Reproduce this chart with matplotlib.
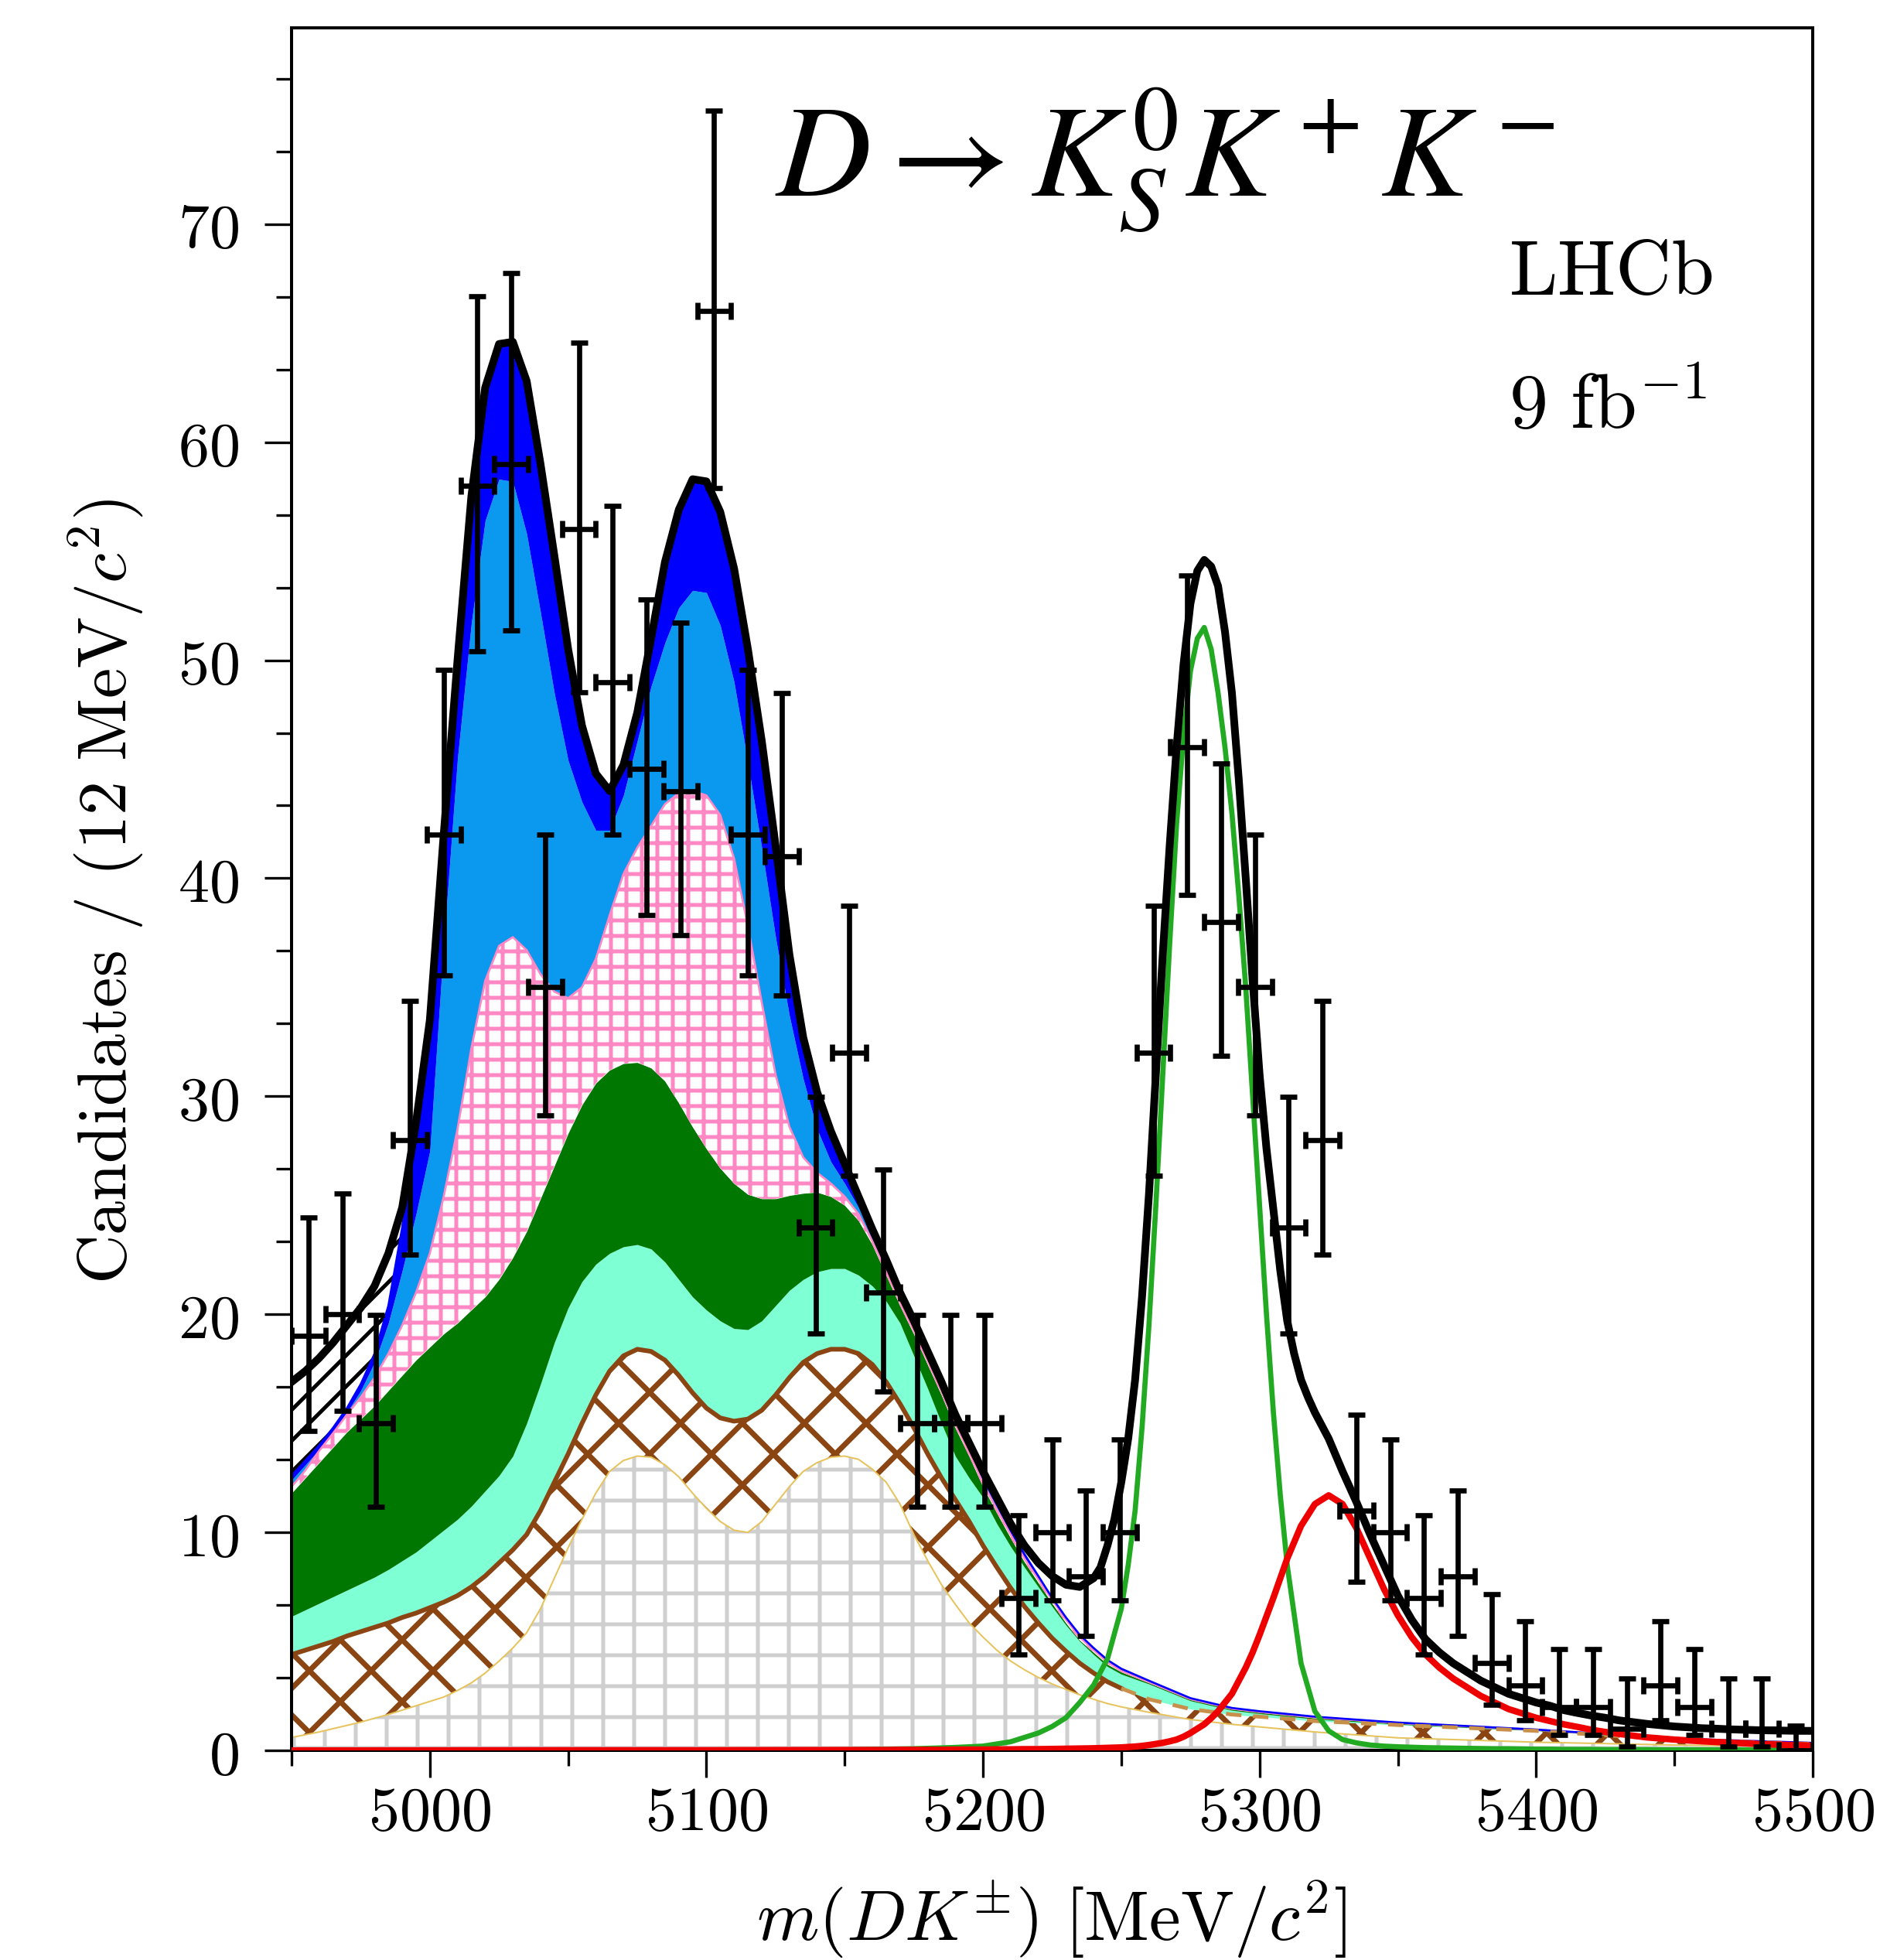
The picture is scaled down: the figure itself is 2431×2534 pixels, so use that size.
import numpy as np
import matplotlib
matplotlib.use("Agg")
import matplotlib.pyplot as plt
from matplotlib.ticker import MultipleLocator, AutoMinorLocator, FuncFormatter

# ---- data: 45 bins over 4950-5500 MeV ----
counts = [19, 20, 15, 28, 42, 58, 59, 35, 56, 49,
          45, 44, 66, 42, 41, 24, 32, 21, 15, 15,
          15, 7, 10, 8, 10, 32, 46, 38, 35, 24,
          28, 11, 10, 7, 8, 4, 3, 2, 2, 1,
          3, 2, 1, 1, 0]
err_lo = [4.33, 4.44, 3.83, 5.27, 6.46, 7.59, 7.65, 5.89, 7.46, 6.98,
          6.69, 6.61, 8.10, 6.46, 6.38, 4.87, 5.63, 4.55, 3.83, 3.83,
          3.83, 2.58, 3.11, 2.76, 3.11, 5.63, 6.76, 6.14, 5.89, 4.87,
          5.27, 3.27, 3.11, 2.58, 2.76, 1.91, 1.63, 1.29, 1.29, 0.83,
          1.63, 1.29, 0.83, 0.83, 0.0]
err_hi = [5.43, 5.55, 4.96, 6.38, 7.57, 8.68, 8.75, 7.01, 8.56, 8.08,
          7.79, 7.72, 9.19, 7.57, 7.49, 5.98, 6.75, 5.66, 4.96, 4.96,
          4.96, 3.77, 4.26, 3.94, 4.26, 6.75, 7.87, 7.26, 7.01, 5.98,
          6.38, 4.41, 4.26, 3.77, 3.94, 3.16, 2.92, 2.64, 2.64, 2.30,
          2.92, 2.64, 2.30, 2.30, 1.15]

# ---- stacked background components (cumulative tops) ----
bkg_x = np.concatenate([np.arange(4950, 5251, 5),
                        [5260, 5275, 5290, 5300, 5320, 5350, 5400, 5450, 5500]])
top_gray = [0.60, 0.72, 0.85, 1.0, 1.15, 1.3, 1.48, 1.65, 1.85, 2.05,
            2.25, 2.45, 2.75, 3.1, 3.55, 4.1, 4.7, 5.4, 6.5, 7.9,
            9.3, 10.6, 11.8, 12.8, 13.3, 13.5, 13.45, 13.1, 12.55, 11.8,
            11.1, 10.5, 10.1, 10.0, 10.5, 11.3, 12.1, 12.8, 13.2, 13.45,
            13.5, 13.35, 12.9, 12.3, 11.3, 9.9, 8.7, 7.6, 6.7, 5.85,
            5.2, 4.6, 4.1, 3.7, 3.35, 3.05, 2.8, 2.55, 2.35, 2.15,
            2.0,
            1.75, 1.42, 1.2, 1.08, 0.85, 0.58, 0.38, 0.25, 0.18]
top_brown = [4.4, 4.6, 4.8, 5.0, 5.25, 5.45, 5.65, 5.85, 6.1, 6.3,
             6.55, 6.8, 7.1, 7.5, 8.0, 8.6, 9.2, 9.9, 11.0, 12.3,
             13.6, 15.0, 16.3, 17.4, 18.1, 18.4, 18.3, 17.9, 17.2, 16.4,
             15.7, 15.25, 15.1, 15.2, 15.6, 16.3, 17.1, 17.8, 18.2, 18.4,
             18.4, 18.2, 17.7, 16.9, 15.9, 14.8, 13.6, 12.5, 11.5, 10.5,
             9.4, 8.4, 7.45, 6.6, 5.85, 5.15, 4.55, 4.0, 3.55, 3.15,
             2.85,
             2.35, 1.9, 1.65, 1.55, 1.35, 1.17, 0.9, 0.5, 0.3]
top_aqua = [6.15, 6.45, 6.75, 7.05, 7.35, 7.65, 7.95, 8.3, 8.7, 9.1,
            9.6, 10.1, 10.6, 11.2, 11.9, 12.6, 13.5, 15.0, 16.8, 18.7,
            20.3, 21.5, 22.3, 22.8, 23.1, 23.2, 23.0, 22.4, 21.6, 20.8,
            20.2, 19.7, 19.35, 19.3, 19.7, 20.4, 21.1, 21.6, 21.95, 22.1,
            22.1, 21.8, 21.3, 20.6, 19.6, 18.1, 16.6, 15.0, 13.5, 12.5,
            11.6, 10.4, 9.35, 8.4, 7.5, 6.6, 5.75, 5.0, 4.4, 3.85,
            3.5,
            3.05, 2.28, 1.84, 1.69, 1.44, 1.2, 0.91, 0.52, 0.32]
top_green = [11.8, 12.5, 13.2, 13.9, 14.6, 15.2, 15.8, 16.5, 17.2, 17.9,
             18.5, 19.1, 19.6, 20.2, 20.8, 21.6, 22.6, 23.8, 25.3, 26.8,
             28.3, 29.6, 30.6, 31.2, 31.5, 31.55, 31.3, 30.7, 29.7, 28.6,
             27.6, 26.7, 26.0, 25.5, 25.3, 25.3, 25.45, 25.55, 25.6, 25.4,
             25.0, 24.3, 23.2, 21.8, 20.4, 19.1, 17.7, 16.3, 14.8, 13.5,
             12.1, 10.9, 9.75, 8.65, 7.7, 6.75, 5.85, 5.05, 4.5, 3.95,
             3.6,
             3.1, 2.33, 1.89, 1.74, 1.49, 1.24, 0.93, 0.53, 0.33]
top_pink = [12.1, 12.85, 13.75, 14.55, 15.4, 16.2, 17.1, 18.2, 19.5, 21.0,
            22.8, 25.4, 28.5, 32.2, 35.3, 36.9, 37.3, 36.7, 35.6, 34.8,
            34.5, 35.0, 36.3, 38.3, 40.2, 41.4, 42.4, 43.4, 43.9, 44.0,
            43.8, 42.9, 40.9, 37.8, 34.3, 31.0, 28.6, 27.2, 26.5, 26.0,
            25.4, 24.6, 23.35, 21.95, 20.55, 19.25, 17.85, 16.45, 14.95, 13.65,
            12.25, 11.05, 9.9, 8.8, 7.85, 6.9, 6.0, 5.2, 4.6, 4.05,
            3.65,
            3.14, 2.36, 1.92, 1.77, 1.52, 1.26, 0.95, 0.54, 0.34]
top_ltblue = [12.4, 13.1, 13.8, 14.6, 15.5, 16.5, 17.8, 19.6, 22.0, 24.6,
              27.5, 37.0, 45.5, 51.7, 56.4, 58.3, 58.2, 55.8, 52.2, 48.5,
              45.4, 43.5, 42.2, 42.2, 43.8, 46.3, 48.8, 50.8, 52.4, 53.2,
              53.1, 51.6, 49.0, 45.3, 41.4, 37.3, 33.7, 30.8, 28.5, 27.0,
              26.0, 24.9, 23.45, 22.1, 20.7, 19.35, 17.95, 16.55, 15.05, 13.75,
              12.35, 11.15, 9.95, 8.85, 7.9, 6.95, 6.05, 5.25, 4.65, 4.1,
              3.7,
              3.17, 2.38, 1.94, 1.78, 1.53, 1.27, 0.96, 0.55, 0.35]
top_blue = [12.6, 13.3, 14.0, 14.8, 15.7, 16.8, 18.2, 20.4, 24.0, 28.5,
            33.3, 41.8, 49.8, 57.3, 62.3, 64.3, 64.4, 62.6, 58.8, 54.6,
            50.3, 46.8, 44.6, 43.8, 45.0, 47.4, 50.8, 54.3, 56.7, 58.1,
            58.0, 56.6, 54.0, 50.3, 46.1, 41.3, 36.3, 32.5, 30.0, 28.2,
            26.7, 25.2, 23.7, 22.3, 20.8, 19.5, 18.1, 16.7, 15.2, 13.9,
            12.5, 11.3, 10.1, 9.0, 8.0, 7.0, 6.1, 5.3, 4.7, 4.15,
            3.75,
            3.2, 2.4, 1.95, 1.8, 1.55, 1.28, 0.96, 0.55, 0.35]

# ---- total fit (finer steps across the B peak) ----
tot_x = np.concatenate([np.arange(4950, 5240, 5),
                        np.arange(5240, 5320.1, 2.5),
                        np.arange(5325, 5501, 5)])
total = [16.9, 17.4, 18.0, 18.7, 19.5, 20.3, 21.3, 22.8, 24.9, 28.8,
         33.5, 42.0, 50.0, 57.5, 62.5, 64.5, 64.6, 62.8, 59.0, 54.8,
         50.5, 47.0, 44.8, 44.0, 45.2, 47.6, 51.0, 54.5, 56.9, 58.3,
         58.2, 56.8, 54.2, 50.5, 46.3, 41.5, 36.5, 32.7, 30.2, 28.4,
         26.9, 25.4, 23.9, 22.5, 21.0, 19.7, 18.3, 16.9, 15.4, 14.1,
         12.8, 11.6, 10.4, 9.4, 8.6, 8.0, 7.6, 7.5,
         7.9, 8.4, 9.4, 10.6, 12.3, 14.3, 17.0, 20.8, 25.5, 31.0,
         36.5, 41.5, 46.0, 49.8, 52.6, 54.1, 54.6, 54.3, 53.4, 51.3,
         48.5, 44.5, 40.0, 35.3, 31.0, 27.6, 24.8, 22.0, 19.7, 18.2,
         17.0, 16.2, 15.5,
         14.3, 12.8, 11.4, 9.9, 8.5,
         7.1, 6.0, 5.1, 4.5, 4.0, 3.6, 3.2, 2.9, 2.6, 2.4,
         2.2, 2.05, 1.85, 1.72, 1.6, 1.5, 1.38, 1.3, 1.22, 1.16,
         1.1, 1.06, 1.02, 1.0, 0.97, 0.95, 0.93, 0.92, 0.91, 0.9,
         0.9]

# ---- signal (green) and misID (red) shapes ----
sig_x = np.concatenate([[4950, 5050, 5100],
                        np.arange(5150, 5250, 5),
                        np.arange(5250, 5310.1, 2.5),
                        np.arange(5315, 5501, 5)])
sig_green = [0.0, 0.0, 0.01,
             0.03, 0.04, 0.05, 0.06, 0.07, 0.08, 0.1, 0.12, 0.14, 0.17,
             0.2, 0.3, 0.4, 0.6, 0.8, 1.1, 1.5, 2.2, 3.0, 4.2,
             6.5, 8.5, 11.0, 14.8, 19.5, 25.0, 31.0, 37.0, 42.5, 46.5,
             49.5, 51.0, 51.5, 50.5, 48.5, 46.0, 43.0, 39.2, 35.0, 30.0,
             25.0, 20.0, 15.5, 11.7, 8.5,
             4.0, 1.8, 0.9, 0.5, 0.35, 0.25, 0.2,
             0.17, 0.15, 0.13, 0.12, 0.11, 0.1, 0.09, 0.08, 0.08, 0.07,
             0.06, 0.06, 0.05, 0.05, 0.05, 0.04, 0.04, 0.04, 0.04, 0.03,
             0.03, 0.03, 0.03, 0.03, 0.03, 0.03, 0.02, 0.02, 0.02, 0.02,
             0.02]
sig_red = [0.0, 0.01, 0.01,
           0.02, 0.02, 0.02, 0.02, 0.03, 0.03, 0.03, 0.03, 0.04, 0.04,
           0.04, 0.05, 0.05, 0.06, 0.06, 0.07, 0.08, 0.09, 0.1, 0.12,
           0.14, 0.16, 0.18, 0.21, 0.25, 0.3, 0.35, 0.42, 0.5, 0.63,
           0.8, 1.0, 1.2, 1.48, 1.8, 2.2, 2.6, 3.2, 3.8, 4.5,
           5.3, 6.15, 7.0, 7.9, 8.8,
           10.3, 11.3, 11.7, 11.3, 10.2, 8.8, 7.4,
           6.2, 5.2, 4.4, 3.8, 3.3, 2.9, 2.5, 2.2, 1.9, 1.7,
           1.5, 1.35, 1.2, 1.08, 0.95, 0.85, 0.76, 0.68, 0.6, 0.55,
           0.5, 0.46, 0.42, 0.39, 0.36, 0.33, 0.3, 0.28, 0.26, 0.24,
           0.22]

DPI = 240
plt.rcParams["mathtext.fontset"] = "cm"
plt.rcParams["hatch.linewidth"] = 1.5

fig = plt.figure(figsize=(2431 / DPI, 2534 / DPI), dpi=DPI)
ax = fig.add_axes([0.1551, 0.1069, 0.8091, 0.8789])

edges = np.linspace(4950, 5500, len(counts) + 1)
centers = 0.5 * (edges[1:] + edges[:-1])
half = 0.5 * (edges[1] - edges[0])

# stacked components
with plt.rc_context({"hatch.linewidth": 1.5}):
    ax.fill_between(bkg_x, 0, top_gray, facecolor="white", edgecolor="#cfcfcf",
                    hatch="+", linewidth=0, zorder=1)
ax.plot(bkg_x, top_gray, color="#e6c35c", lw=0.6, zorder=1.5)
with plt.rc_context({"hatch.linewidth": 2.1}):
    ax.fill_between(bkg_x, top_gray, top_brown, facecolor="white", edgecolor="#8b4513",
                    hatch="x", linewidth=0, zorder=1)
solid = bkg_x <= 5250
ax.plot(bkg_x[solid], np.array(top_brown)[solid], color="#8b4513", lw=1.8, zorder=1.5)
ax.plot(bkg_x[bkg_x >= 5250], np.array(top_brown)[bkg_x >= 5250], color="#c8904a",
        lw=1.5, ls=(0, (4, 3)), zorder=1.5)
ax.fill_between(bkg_x, top_brown, top_aqua, color="#7fffd4", linewidth=0, zorder=1)
ax.fill_between(bkg_x, top_aqua, top_green, color="#007700", linewidth=0, zorder=1)
with plt.rc_context({"hatch.linewidth": 1.5}):
    ax.fill_between(bkg_x, top_green, top_pink, facecolor="white", edgecolor="#ff88c4",
                    hatch="++", linewidth=0, zorder=1)
ax.plot(bkg_x, top_pink, color="#ff88c4", lw=0.8, zorder=1.2)
ax.fill_between(bkg_x, top_pink, top_ltblue, color="#0a99ee", linewidth=0, zorder=1)
ax.fill_between(bkg_x, top_ltblue, top_blue, color="#0000ff", linewidth=0, zorder=1)
ax.plot(bkg_x, top_blue, color="#0000ff", lw=0.8, zorder=1.2)

# hatched black component on the far left
left = bkg_x <= 5000
with plt.rc_context({"hatch.linewidth": 1.5}):
    ax.fill_between(bkg_x[left], np.array(top_blue)[left], np.array(total)[:left.sum()],
                    facecolor="white", edgecolor="black", hatch="//", linewidth=0, zorder=1)

# signal / misID / total
ax.plot(sig_x, sig_green, color="#22aa22", lw=2.0, zorder=3, solid_joinstyle="round")
ax.plot(sig_x, sig_red, color="#ee0000", lw=2.5, zorder=3, solid_joinstyle="round")
ax.plot(tot_x, total, color="black", lw=3.0, zorder=4, solid_joinstyle="round")

# data
ax.errorbar(centers, counts, yerr=[err_lo, err_hi], xerr=half, fmt="none",
            ecolor="black", elinewidth=2.0, capsize=3.2, capthick=2.0, zorder=5)

ax.set_xlim(4950, 5500)
ax.set_ylim(0, 79)
ax.xaxis.set_major_locator(MultipleLocator(100))
ax.xaxis.set_minor_locator(MultipleLocator(50))
ax.yaxis.set_major_locator(MultipleLocator(10))
ax.yaxis.set_minor_locator(AutoMinorLocator(3))
fmt = FuncFormatter(lambda v, p: f"${v:.0f}$")
ax.xaxis.set_major_formatter(fmt)
ax.yaxis.set_major_formatter(fmt)
ax.tick_params(which="both", direction="out", top=False, right=False, width=1.0,
               labelsize=24)
ax.tick_params(which="major", length=10.5)
ax.tick_params(which="minor", length=6)
ax.tick_params(axis="x", pad=2)
ax.tick_params(axis="y", pad=10)
for s in ax.spines.values():
    s.set_linewidth(1.2)

fig.text(0.0564, 0.545, r"$\mathrm{Candidates\ /\ (12\ MeV}/c^{2})$", rotation=90,
         ha="center", va="center", fontsize=26.5)
fig.text(0.5594, 0.021, r"$m(DK^{\pm})\ [\mathrm{MeV}/c^{2}]$", ha="center",
         va="center", fontsize=27.5)

ax.text(0.3177, 0.902, r"$D \rightarrow K^0_S K^+ K^-$", transform=ax.transAxes,
        ha="left", va="baseline", fontsize=51, math_fontfamily="stix")
ax.text(0.800, 0.8455, r"$\mathrm{LHCb}$", transform=ax.transAxes, ha="left",
        va="baseline", fontsize=30)
ax.text(0.800, 0.7674, r"$9\ \mathrm{fb}^{-1}$", transform=ax.transAxes, ha="left",
        va="baseline", fontsize=30)

fig.savefig("out.png", dpi=DPI)
